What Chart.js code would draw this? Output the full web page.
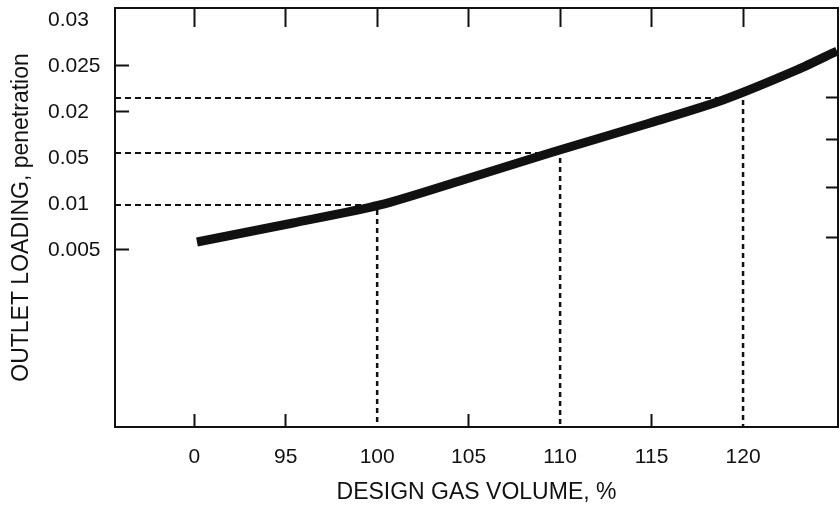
<!DOCTYPE html>
<html>
<head>
<meta charset="utf-8">
<title>Outlet loading vs design gas volume</title>
<script src="https://cdn.jsdelivr.net/npm/chart.js@4.4.1/dist/chart.umd.min.js"></script>
<style>
  html, body { margin: 0; padding: 0; background: #fff; }
  #wrap { width: 840px; height: 506px; }
</style>
</head>
<body>
<div id="wrap"><canvas id="chart" width="840" height="506"></canvas></div>
<script>
// curve (x = design gas volume %, y = outlet loading)
const curveX = [90.15, 95.4, 100.16, 104.69, 109.61, 114.91, 118.9, 122.95, 125.14];
const curveY = [0.00587, 0.00793, 0.00989, 0.01261, 0.01565, 0.0188, 0.0213, 0.02457, 0.02663];

// dashed read-off lines: horizontal ones run from the y axis to the curve,
// vertical ones drop from the curve to the x axis
const guideY = [0.00989, 0.01554, 0.02152];
const guideYEndX = [99.45, 109.07, 118.85];
const guideX = [100, 110, 120];
const guideXTopY = [0.00935, 0.0150, 0.0213];

// tick values and the labels printed on the figure (typos kept as printed)
const xTickValues = [90, 95, 100, 105, 110, 115, 120];
const xTickLabels = ['0', '95', '100', '105', '110', '115', '120'];
const yTickValues = [0.005, 0.01, 0.015, 0.02, 0.025, 0.03];
const yTickLabels = ['0.005', '0.01', '0.05', '0.02', '0.025', '0.03'];
const rightTickValues = [0.00641, 0.01174, 0.01696, 0.02152];

const X_MIN = 85.67, X_MAX = 125.19;
const Y_MIN = -0.01424, Y_MAX = 0.0313;

const INK = '#111111';
const TICK_FONT = { family: "'Liberation Sans', Arial, sans-serif", size: 21 };
const TITLE_FONT = { family: "'Liberation Sans', Arial, sans-serif", size: 23 };

const datasets = [{
    label: 'curve',
    data: curveX.map((x, i) => ({ x, y: curveY[i] })),
    borderColor: INK,
    borderWidth: 9,
    pointRadius: 0,
    tension: 0.25,
    borderCapStyle: 'butt',
}];

guideY.forEach((y, i) => {
    datasets.push({
        label: 'h' + i,
        data: [{ x: X_MIN, y }, { x: guideYEndX[i], y }],
        borderColor: INK, borderWidth: 2, borderDash: [6, 4], pointRadius: 0,
    });
});
guideX.forEach((x, i) => {
    datasets.push({
        label: 'v' + i,
        data: [{ x, y: guideXTopY[i] }, { x, y: Y_MIN }],
        borderColor: INK, borderWidth: 2.5, borderDash: [5, 4], pointRadius: 0,
    });
});

const setTicks = values => scale => { scale.ticks = values.map(v => ({ value: v })); };
const near = (a, b) => Math.abs(a - b) < 1e-6;
const HIDDEN = 'rgba(0,0,0,0)';

new Chart(document.getElementById('chart'), {
    type: 'line',
    data: { datasets },
    options: {
        responsive: false,
        animation: false,
        devicePixelRatio: 1,
        // left padding puts the left-aligned y labels where the figure has them
        layout: { padding: { left: 48, top: 0, right: 0, bottom: 0 } },
        plugins: { legend: { display: false }, tooltip: { enabled: false } },
        scales: {
            x: {
                type: 'linear', position: 'bottom', min: X_MIN, max: X_MAX,
                afterBuildTicks: setTicks(xTickValues),
                afterFit: s => { s.height = 79; },
                ticks: { callback: (v, i) => xTickLabels[i], autoSkip: false, maxRotation: 0, padding: 31, color: INK, font: TICK_FONT },
                grid: {
                    drawOnChartArea: false, tickLength: -13, tickWidth: 2,
                    tickColor: c => guideX.some(g => near(g, c.tick.value)) ? HIDDEN : INK,
                },
                border: { color: INK, width: 2 },
                title: { display: true, text: 'DESIGN GAS VOLUME, %', color: INK, font: TITLE_FONT, padding: { top: 0, bottom: 0 } },
            },
            x2: {
                type: 'linear', position: 'top', min: X_MIN, max: X_MAX,
                afterBuildTicks: setTicks(xTickValues),
                afterFit: s => { s.height = 8; },
                ticks: { display: false },
                grid: { drawOnChartArea: false, tickLength: -19, tickWidth: 2, tickColor: INK },
                border: { color: INK, width: 2 },
            },
            y: {
                type: 'linear', position: 'left', min: Y_MIN, max: Y_MAX,
                afterBuildTicks: setTicks(yTickValues),
                afterFit: s => { s.width = 67; },
                ticks: { callback: (v, i) => yTickLabels[i], crossAlign: 'far', padding: -5, color: INK, font: TICK_FONT },
                grid: {
                    drawOnChartArea: false, tickLength: -14, tickWidth: 2,
                    tickColor: c => [0.01, 0.015, 0.03].some(g => near(g, c.tick.value)) ? HIDDEN : INK,
                },
                border: { color: INK, width: 2 },
                title: { display: true, text: 'OUTLET LOADING, penetration', color: INK, font: TITLE_FONT, padding: { top: -40, bottom: 0 } },
            },
            y2: {
                type: 'linear', position: 'right', min: Y_MIN, max: Y_MAX,
                afterBuildTicks: setTicks(rightTickValues),
                afterFit: s => { s.width = 2; },
                ticks: { display: false },
                grid: { drawOnChartArea: false, tickLength: -12, tickWidth: 2, tickColor: INK },
                border: { color: INK, width: 2 },
            },
        },
    },
});
</script>
</body>
</html>
